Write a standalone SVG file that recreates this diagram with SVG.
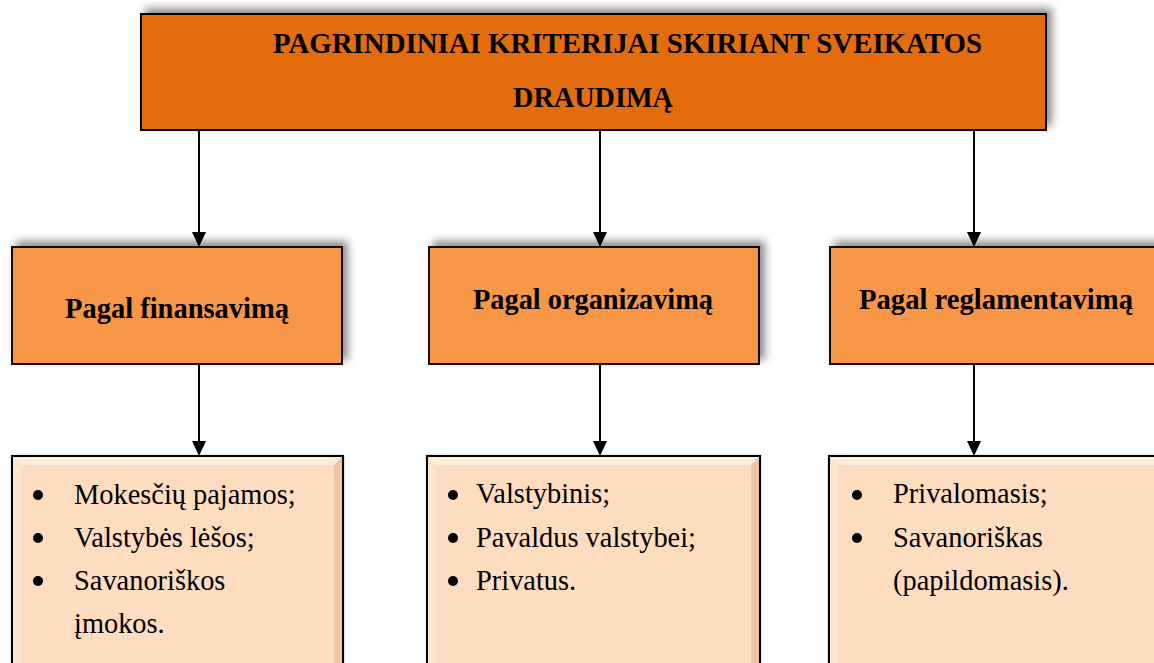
<svg xmlns="http://www.w3.org/2000/svg" width="1154" height="663" viewBox="0 0 1154 663">
  <style>
    .title { font-family: "Liberation Serif", "Times New Roman", serif; font-weight: bold; font-size: 30px; fill: #000; }
    .head { font-family: "Liberation Serif", "Times New Roman", serif; font-weight: bold; font-size: 30px; fill: #000; }
    .item { font-family: "Liberation Serif", "Times New Roman", serif; font-size: 28.4px; fill: #000; }
    .top-box { fill: #E36C0A; stroke: #000; stroke-width: 2; }
    .mid-box { fill: #F79646; stroke: #111; stroke-width: 2; }
    .list-box { fill: #FDDCBF; stroke: #000; stroke-width: 2.2; }
    .bevel-light { fill: #FEEDDD; }
    .bevel-side { fill: #FDE4CD; }
    .bevel-dark { fill: #EEC6A2; }
    .link { stroke: #000; stroke-width: 2; }
    .head-tip { fill: #000; }
    .bullet { fill: #000; }
  </style>
  <defs>
    <filter id="shadow" x="-5%" y="-20%" width="110%" height="140%">
      <feDropShadow dx="5" dy="-5" stdDeviation="4" flood-color="#000" flood-opacity="0.45"/>
    </filter>
  </defs>

  <rect width="1154" height="663" fill="#fff"/>

  <!-- connectors -->
  <g id="connectors">
    <line class="link" x1="199" y1="131" x2="199" y2="232"/>
    <path class="head-tip" d="M192,232 L206,232 L199,247 Z"/>
    <line class="link" x1="600" y1="131" x2="600" y2="232"/>
    <path class="head-tip" d="M593,232 L607,232 L600,247 Z"/>
    <line class="link" x1="974" y1="131" x2="974" y2="232"/>
    <path class="head-tip" d="M967,232 L981,232 L974,247 Z"/>

    <line class="link" x1="199" y1="365" x2="199" y2="441"/>
    <path class="head-tip" d="M192,441 L206,441 L199,456 Z"/>
    <line class="link" x1="600" y1="365" x2="600" y2="441"/>
    <path class="head-tip" d="M593,441 L607,441 L600,456 Z"/>
    <line class="link" x1="974" y1="365" x2="974" y2="441"/>
    <path class="head-tip" d="M967,441 L981,441 L974,456 Z"/>
  </g>

  <!-- root node -->
  <g id="root">
    <rect class="top-box" x="141" y="14" width="905" height="116" filter="url(#shadow)"/>
    <text class="title" x="273" y="53" textLength="709" lengthAdjust="spacingAndGlyphs">PAGRINDINIAI KRITERIJAI SKIRIANT SVEIKATOS</text>
    <text class="title" x="513" y="107" textLength="160" lengthAdjust="spacingAndGlyphs">DRAUDIMĄ</text>
  </g>

  <!-- criteria nodes -->
  <g id="finansavimas">
    <rect class="mid-box" x="12" y="247" width="330" height="117" filter="url(#shadow)"/>
    <text class="head" x="65" y="318" textLength="224" lengthAdjust="spacingAndGlyphs">Pagal finansavimą</text>
  </g>
  <g id="organizavimas">
    <rect class="mid-box" x="429" y="247" width="330" height="117" filter="url(#shadow)"/>
    <text class="head" x="473" y="309" textLength="240" lengthAdjust="spacingAndGlyphs">Pagal organizavimą</text>
  </g>
  <g id="reglamentavimas">
    <rect class="mid-box" x="830" y="247" width="340" height="117" filter="url(#shadow)"/>
    <text class="head" x="859" y="309" textLength="274" lengthAdjust="spacingAndGlyphs">Pagal reglamentavimą</text>
  </g>

  <!-- detail lists -->
  <g id="finansavimas-list">
    <rect class="list-box" x="12" y="456" width="331" height="220"/>
    <polygon class="bevel-light" points="13,457 342,457 334,465 21,465"/>
    <polygon class="bevel-side" points="13,457 21,465 21,663 13,663"/>
    <polygon class="bevel-dark" points="342,457 342,663 334,663 334,465"/>
    <circle class="bullet" cx="38" cy="495" r="5"/>
    <circle class="bullet" cx="38" cy="538" r="5"/>
    <circle class="bullet" cx="38" cy="581" r="5"/>
    <text class="item" x="74" y="504">Mokesčių pajamos;</text>
    <text class="item" x="74" y="547">Valstybės lėšos;</text>
    <text class="item" x="74" y="590">Savanoriškos</text>
    <text class="item" x="74" y="633">įmokos.</text>
  </g>
  <g id="organizavimas-list">
    <rect class="list-box" x="427" y="456" width="333" height="220"/>
    <polygon class="bevel-light" points="428,457 759,457 751,465 436,465"/>
    <polygon class="bevel-side" points="428,457 436,465 436,663 428,663"/>
    <polygon class="bevel-dark" points="759,457 759,663 751,663 751,465"/>
    <circle class="bullet" cx="453" cy="495" r="5"/>
    <circle class="bullet" cx="453" cy="538" r="5"/>
    <circle class="bullet" cx="453" cy="581" r="5"/>
    <text class="item" x="476" y="503">Valstybinis;</text>
    <text class="item" x="476" y="547">Pavaldus valstybei;</text>
    <text class="item" x="476" y="590">Privatus.</text>
  </g>
  <g id="reglamentavimas-list">
    <rect class="list-box" x="829" y="456" width="340" height="220"/>
    <polygon class="bevel-light" points="830,457 1160,457 1160,465 838,465"/>
    <polygon class="bevel-side" points="830,457 838,465 838,663 830,663"/>
    <circle class="bullet" cx="857" cy="495" r="5"/>
    <circle class="bullet" cx="857" cy="538" r="5"/>
    <text class="item" x="893" y="503">Privalomasis;</text>
    <text class="item" x="893" y="547">Savanoriškas</text>
    <text class="item" x="893" y="590">(papildomasis).</text>
  </g>
</svg>
